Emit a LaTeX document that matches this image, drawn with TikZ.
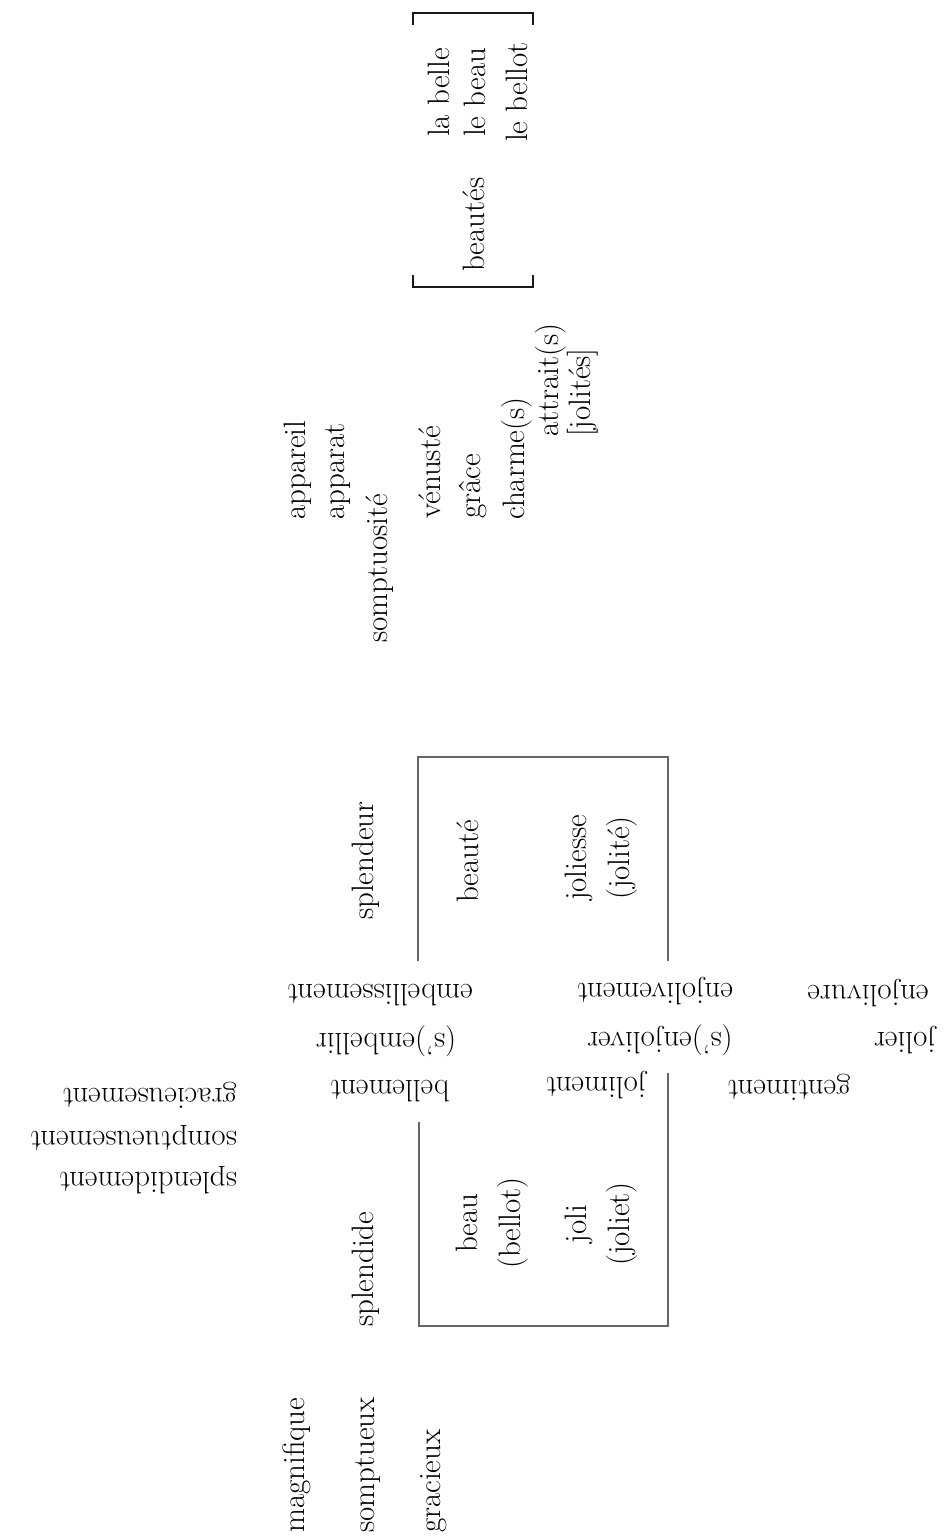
\documentclass[tikz,border=0pt]{standalone}
\usepackage{fontspec}
\newcommand\wfont{\fontsize{31}{43}\selectfont}
\begin{document}
\begin{tikzpicture}[x=1pt,y=-1pt,
  every node/.style={inner sep=0pt, text=black},
  vt/.style={rotate=90, anchor=west, font=\wfont},
  vc/.style={rotate=90, anchor=center, align=center, font=\wfont},
  ud/.style={rotate=180, anchor=center, font=\wfont},
  udr/.style={rotate=180, anchor=west, font=\wfont},
  boxline/.style={draw=black!60, line width=1.6pt},
  brk/.style={draw=black!90, line width=2.6pt}]
\useasboundingbox (0,0) rectangle (944,1539);

% top-right bracket group
\coordinate (b1) at (413,25); \coordinate (b2) at (413,13);
\coordinate (b3) at (533,13); \coordinate (b4) at (533,25);
\draw[brk] (b1) -- (b2) -- (b3) -- (b4);
\coordinate (c1) at (413,275); \coordinate (c2) at (413,287);
\coordinate (c3) at (533,287); \coordinate (c4) at (533,275);
\draw[brk] (c1) -- (c2) -- (c3) -- (c4);
\node[vt] (labelle) at (439,137) {la belle};
\node[vt] (lebeau) at (475,137) {le beau};
\node[vt] (lebellot) at (517,142) {le bellot};
\node[vt] (beautes) at (474,272) {beautés};

% nouns column
\node[vt] (appareil) at (298,520) {appareil};
\node[vt] (apparat) at (338,520) {apparat};
\node[vt] (somptuosite) at (380,643) {somptuosité};
\node[vt] (venuste) at (430,519) {vénusté};
\node[vt] (grace) at (473,519) {grâce};
\node[vt] (charme) at (517,520) {charme(s)};
\node[vt] (attrait) at (551,437) {attrait(s)};
\node[vt] (jolites) at (583,437) {[jolités]};

% upper box
\coordinate (u1) at (418,961); \coordinate (u2) at (418,757);
\coordinate (u3) at (668,757); \coordinate (u4) at (668,961);
\draw[boxline] (u1) -- (u2) -- (u3) -- (u4);
\node[vt] (splendeur) at (366,920) {splendeur};
\node[vt] (beaute) at (468,903) {beauté};
\node[vc] (joliesse) at (601,858) {joliesse\\(jolité)};

% middle strip (upside down)
\node[ud] (embellissement) at (380,995) {embellissement};
\node[ud] (sembellir) at (386,1041) {(s')embellir};
\node[ud] (bellement) at (390,1091) {bellement};
\node[ud] (enjolivement) at (655,991) {enjolivement};
\node[ud] (senjoliver) at (660,1040) {(s')enjoliver};
\node[ud] (joliment) at (596,1085) {joliment};
\node[ud] (gentiment) at (789,1087) {gentiment};
\node[ud] (enjolivure) at (868,993) {enjolivure};
\node[ud] (jolier) at (905,1040) {jolier};
\node[udr] (gracieusement) at (237,1095) {gracieusement};
\node[udr] (somptueusement) at (237,1138) {somptueusement};
\node[udr] (splendidement) at (237,1180) {splendidement};

% lower box
\coordinate (l1) at (419,1122); \coordinate (l2) at (419,1326);
\coordinate (l3) at (668,1326); \coordinate (l4) at (668,1073);
\draw[boxline] (l1) -- (l2) -- (l3) -- (l4);
\node[vt] (splendide) at (366,1327) {splendide};
\node[vc] (beau) at (492,1223) {beau\\(bellot)};
\node[vc] (joli) at (601,1224) {joli\\(joliet)};

% adjectives
\node[vt] (magnifique) at (297,1533) {magnifique};
\node[vt] (somptueux) at (368,1533) {somptueux};
\node[vt] (gracieux) at (434,1533) {gracieux};
\end{tikzpicture}
\end{document}
